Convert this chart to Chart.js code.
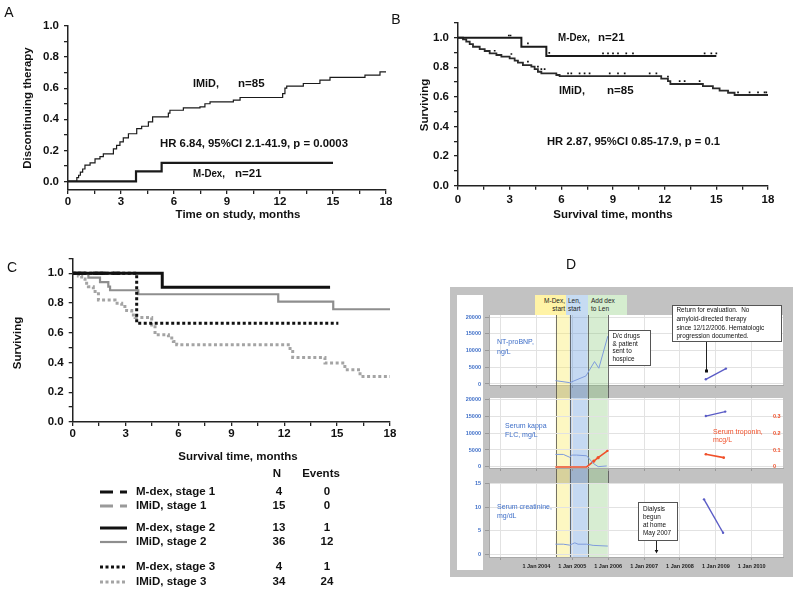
<!DOCTYPE html>
<html><head><meta charset="utf-8">
<script src="https://cdn.jsdelivr.net/npm/chart.js@4"></script>
<style>
html,body{margin:0;padding:0;background:#fff;width:800px;height:593px;overflow:hidden;font-family:"Liberation Sans",Arial,sans-serif}
canvas{position:absolute;left:0;top:0}
.abs{position:absolute}
.lab{position:absolute;font-size:6.5px;line-height:8px;color:#222;box-sizing:border-box;padding-top:2px}
</style></head><body>
<div class="abs" style="left:450px;top:287px;width:343px;height:290px;background:#c2c2c2"></div>
<div class="abs" style="left:457px;top:295px;width:26px;height:275px;background:#fff"></div>
<div class="abs" style="left:489px;top:315px;width:294px;height:70px;background:#fff"></div>
<div class="abs" style="left:489px;top:398px;width:294px;height:70px;background:#fff"></div>
<div class="abs" style="left:489px;top:483px;width:294px;height:74px;background:#fff"></div>
<div class="lab" style="left:535px;top:295px;width:31px;height:20px;background:#fff3a6;text-align:right;padding-right:1px">M-Dex,<br>start</div>
<div class="lab" style="left:566px;top:295px;width:22px;height:20px;background:#c6dbf2;padding-left:2px">Len,<br>start</div>
<div class="lab" style="left:588px;top:295px;width:39px;height:20px;background:#d5edcf;padding-left:3px">Add dex<br>to Len</div>
<script>
// ---------------- DATA ----------------
// Panel A (discontinuing therapy)
const imidATime = [0,0.5,0.6,0.7,0.83,0.96,1.25,1.53,1.81,2.0,2.57,2.75,2.94,3.13,3.42,3.89,4.17,4.55,4.79,5.68,5.77,6.53,7.47,7.75,8.04,9.36,9.74,12.15,12.28,12.38,13.32,14.26,14.83,16.81,17.66,18];
const imidAValue = [0,0.025,0.04,0.06,0.08,0.105,0.12,0.145,0.16,0.178,0.21,0.232,0.254,0.28,0.307,0.34,0.355,0.383,0.415,0.44,0.458,0.473,0.48,0.5,0.512,0.523,0.54,0.565,0.6,0.613,0.63,0.652,0.669,0.684,0.705,0.705];
const mdexATime = [0,3.85,5.3,15];
const mdexAValue = [0,0.065,0.12,0.12];
// Panel B (survival)
const mdexBTime = [0,3.68,5.13,15];
const mdexBSurv = [1,0.939,0.876,0.876];
const imidBTime = [0,0.29,0.48,0.68,0.87,1.26,1.55,1.84,2.23,2.52,3.0,3.29,3.48,3.77,4.26,4.45,4.64,4.84,5.71,5.9,11.8,12.19,12.33,14.22,14.8,15.19,15.68,16.06,18];
const imidBSurv = [1,0.989,0.973,0.957,0.939,0.923,0.91,0.894,0.883,0.872,0.86,0.845,0.831,0.815,0.804,0.788,0.77,0.759,0.748,0.741,0.723,0.707,0.687,0.673,0.658,0.642,0.628,0.613,0.613];
const mdexBCensTime = [2.95,3.05,4.06,5.3,8.42,8.71,9.0,9.29,9.77,10.16,14.32,14.71,15.0];
const mdexBCensSurv = [1.015,1.015,0.962,0.898,0.894,0.894,0.894,0.894,0.894,0.894,0.894,0.894,0.894];
const imidBCensTime = [2.13,3.1,4.06,4.64,4.84,5.03,6.39,6.58,7.06,7.35,7.64,8.81,9.29,9.68,11.13,11.52,12.19,12.87,13.16,14.03,16.26,16.93,17.42,17.8,17.9];
const imidBCensSurv = [0.912,0.89,0.838,0.804,0.788,0.788,0.759,0.759,0.759,0.759,0.759,0.759,0.759,0.759,0.759,0.759,0.737,0.707,0.707,0.707,0.631,0.631,0.631,0.631,0.631];
// Panel C (survival by stage)
const mdexS1Time = [0,2.7];           const mdexS1Surv = [1,1];
const mdexS2Time = [0,5.08,14.6];     const mdexS2Surv = [1,0.906,0.906];
const mdexS3Time = [0,3.63,15.07];    const mdexS3Surv = [1,0.664,0.664];
const imidS1Time = [0,2.5];           const imidS1Surv = [1,1];
const imidS2Time = [0,0.89,1.55,2.02,2.12,3.72,11.66,14.78,18];
const imidS2Surv = [1,0.971,0.94,0.91,0.886,0.859,0.81,0.758,0.758];
const imidS3Time = [0,0.32,0.51,0.7,0.89,1.17,1.46,2.4,2.78,3.06,3.35,3.54,4.48,4.67,5.43,5.71,5.9,12.33,12.48,14.31,15.44,16.3,18];
const imidS3Surv = [1,0.982,0.962,0.933,0.91,0.877,0.821,0.799,0.776,0.749,0.72,0.702,0.653,0.586,0.564,0.541,0.519,0.474,0.434,0.396,0.351,0.306,0.306];
const groupNames = ['M-dex, stage 1','IMiD, stage 1','M-dex, stage 2','IMiD, stage 2','M-dex, stage 3','IMiD, stage 3'];
const groupN = [4,15,13,36,4,34];
const groupEvents = [0,0,1,12,1,24];
// KM tick values
const kmXTicks = [0,1.5,3,4.5,6,7.5,9,10.5,12,13.5,15,16.5,18];
const kmYTicks = [0,0.1,0.2,0.3,0.4,0.5,0.6,0.7,0.8,0.9,1.0,1.1];
// Panel D (patient course, decimal years)
const dYearTicks = [2003,2004,2005,2006,2007,2008,2009,2010];
const bandStart = [2004.54,2004.93,2005.43];
const bandEnd   = [2004.93,2005.43,2005.99];
const bnpEarlyDate = [2004.53,2004.93,2005.38,2005.62,2005.74,2005.99];
const bnpEarlyVal  = [1000,400,2400,6700,4700,14300];
const bnpLateDate  = [2008.72,2009.28];
const bnpLateVal   = [1400,4600];
const bnpTicks = [0,5000,10000,15000,20000];
const flcEarlyDate = [2004.53,2004.75,2004.93,2004.98,2005.12,2005.40,2005.58,2005.72,2005.96];
const flcEarlyVal  = [3700,3700,2850,3500,3500,3300,1100,100,300];
const flcLateDate  = [2008.72,2009.26];
const flcLateVal   = [15000,16300];
const flcTicks = [0,5000,10000,15000,20000];
const tropEarlyDate = [2004.53,2005.40,2005.60,2005.72,2005.98];
const tropEarlyVal  = [0,0,0.035,0.055,0.095];
const tropLateDate  = [2008.72,2009.22];
const tropLateVal   = [0.075,0.055];
const tropTicks = [0,0.1,0.2,0.3];
const creatEarlyDate = [2004.53,2004.75,2004.93,2005.07,2005.16,2005.40,2005.58,2005.99];
const creatEarlyVal  = [2.1,2.1,1.9,2.4,2.1,2.1,1.85,1.7];
const creatLateDate  = [2008.67,2009.2];
const creatLateVal   = [11.7,4.55];
const creatTicks = [0,5,10,15];
const returnDate = 2008.72;
const dialysisDate = 2007.34;

// ---------------- HELPERS ----------------
const FONT = '"Liberation Sans", Arial, sans-serif';
Chart.defaults.font.family = FONT;
function mkCanvas(){ const c=document.createElement('canvas'); c.width=800; c.height=593; c.style.width='800px'; c.style.height='593px'; document.body.appendChild(c); return c; }
function layoutFor(g){ return {autoPadding:false, padding:{left:g.l-g.yw, top:g.t, right:800-g.r-(g.ryw||0), bottom:593-g.b-g.xh}}; }
function textPlugin(items){ return {id:'txt', afterDraw(chart){ const ctx=chart.ctx; items.forEach(it=>{ ctx.save(); ctx.font=(it.w||'bold')+' '+(it.s||11.5)+'px '+FONT; ctx.fillStyle=it.c||'#111'; ctx.textAlign=it.a||'left'; ctx.textBaseline='middle'; ctx.translate(it.x,it.y); if(it.r) ctx.rotate(it.r); if(it.mw) ctx.fillText(it.t,0,0,it.mw); else ctx.fillText(it.t,0,0); ctx.restore(); }); } }; }
function pts(t,v){ return t.map((x,i)=>({x:x,y:v[i]})); }
function km(label,t,s,color,width,dash){ return {label:label,data:pts(t,s),borderColor:color,borderWidth:width,borderDash:dash||[],stepped:true,pointRadius:0,fill:false}; }
function cens(t,s){ return {data:pts(t,s),showLine:false,pointRadius:1.2,pointStyle:'rect',pointBackgroundColor:'#111',pointBorderWidth:0}; }
const kmFont = {size:11.5, weight:'bold'};
function kmChart(datasets,g,yMin,yMax,xPad,texts,extra){
  return new Chart(mkCanvas(),{type:'line',data:{datasets:datasets},options:{
    responsive:false,animation:false,devicePixelRatio:1,events:[],
    layout:layoutFor(g),
    plugins:{legend:{display:false},tooltip:{enabled:false}},
    scales:{
      x:{type:'linear',min:0,max:18,afterFit:s=>{s.height=g.xh;},afterBuildTicks:s=>{s.ticks=kmXTicks.map(v=>({value:v}));},
        ticks:{autoSkip:false,maxRotation:0,padding:xPad,color:'#111',font:kmFont,callback:v=>(v%3===0)?String(v):''},
        grid:{drawOnChartArea:false,tickLength:4,color:'#222',lineWidth:1.3},border:{color:'#222',width:1.5}},
      y:{type:'linear',min:yMin,max:yMax,afterFit:s=>{s.width=g.yw;},afterBuildTicks:s=>{s.ticks=kmYTicks.filter(v=>v<=yMax+1e-9).map(v=>({value:v}));},
        ticks:{autoSkip:false,padding:5,color:'#111',font:kmFont,callback:v=>(Math.round(v*10)%2===0)?v.toFixed(1):''},
        grid:{drawOnChartArea:false,tickLength:4,color:'#222',lineWidth:1.3},border:{color:'#222',width:1.5}}
    }},plugins:[textPlugin(texts)].concat(extra||[])});
}
const RV = -Math.PI/2;

// ---------------- PANEL A ----------------
kmChart([
  km('M-Dex',mdexATime,mdexAValue,'#1a1a1a',2.2),
  km('IMiD',imidATime,imidAValue,'#1a1a1a',1.2)
],{l:68,t:26,r:386,b:190,yw:68,xh:25},-0.055,1.0,1,[
  {t:'A',x:9,y:13,s:14,w:'normal',a:'center'},
  {t:'Discontinuing therapy',x:28,y:108,r:RV,a:'center'},
  {t:'Time on study, months',x:238,y:215,a:'center'},
  {t:'IMiD,',x:193,y:84,mw:26},{t:'n=85',x:238,y:84,mw:27},
  {t:'HR 6.84, 95%CI 2.1-41.9, p = 0.0003',x:160,y:144,mw:188},
  {t:'M-Dex,',x:193,y:174,mw:32},{t:'n=21',x:235,y:174,mw:28}
]);

// ---------------- PANEL B ----------------
kmChart([
  km('M-Dex',mdexBTime,mdexBSurv,'#1a1a1a',2),
  cens(mdexBCensTime,mdexBCensSurv),
  km('IMiD',imidBTime,imidBSurv,'#2a2a2a',1.8),
  cens(imidBCensTime,imidBCensSurv)
],{l:458,t:22.9,r:768,b:185.7,yw:58,xh:25},0,1.1,3,[
  {t:'B',x:396,y:20,s:14,w:'normal',a:'center'},
  {t:'Surviving',x:425,y:105,r:RV,a:'center'},
  {t:'Survival time, months',x:613,y:215,a:'center'},
  {t:'M-Dex,',x:558,y:38,mw:32},{t:'n=21',x:598,y:38,mw:32},
  {t:'IMiD,',x:559,y:91,mw:26},{t:'n=85',x:607,y:91,mw:28},
  {t:'HR 2.87, 95%CI 0.85-17.9, p = 0.1',x:547,y:142,mw:173}
]);

// ---------------- PANEL C ----------------
const legendRowY = [492,506,528,542,567,582];
const cLegend = {id:'kmLegend',afterDraw(chart){
  const ctx=chart.ctx;
  groupNames.forEach((name,k)=>{
    const ds=chart.data.datasets.find(d=>d.label===name); const y=legendRowY[k];
    ctx.save(); ctx.strokeStyle=ds.borderColor; ctx.lineWidth=ds.borderWidth; ctx.setLineDash(ds.legendDash||ds.borderDash);
    ctx.beginPath(); ctx.moveTo(100,y); ctx.lineTo(127,y); ctx.stroke(); ctx.setLineDash([]);
    ctx.font='bold 11.5px '+FONT; ctx.fillStyle='#111'; ctx.textBaseline='middle'; ctx.textAlign='left';
    ctx.fillText(name,136,y,80); ctx.textAlign='center';
    ctx.fillText(String(groupN[k]),279,y); ctx.fillText(String(groupEvents[k]),327,y); ctx.restore();
  });
}};
const cSets = [
  Object.assign(km('M-dex, stage 1',mdexS1Time,mdexS1Surv,'#111',3,[13,7]),{legendDash:[13,7]}),
  km('M-dex, stage 2',mdexS2Time,mdexS2Surv,'#111',3),
  Object.assign(km('M-dex, stage 3',mdexS3Time,mdexS3Surv,'#111',3,[3,2.5]),{legendDash:[3,2.5]}),
  Object.assign(km('IMiD, stage 1',imidS1Time,imidS1Surv,'#9a9a9a',3,[13,7]),{legendDash:[13,7]}),
  km('IMiD, stage 2',imidS2Time,imidS2Surv,'#8e8e8e',2.2),
  Object.assign(km('IMiD, stage 3',imidS3Time,imidS3Surv,'#a4a4a4',3,[3,2.6]),{legendDash:[3,2.5]})
];
cSets[4].legendDash=[]; cSets[1].legendDash=[];
kmChart(cSets,{l:72.7,t:258.4,r:390,b:422,yw:72.7,xh:25},0,1.1,1,[
  {t:'C',x:12,y:268,s:14,w:'normal',a:'center'},
  {t:'Surviving',x:18,y:343,r:RV,a:'center'},
  {t:'Survival time, months',x:238,y:457,a:'center'},
  {t:'N',x:277,y:474,a:'center'},{t:'Events',x:321,y:474,a:'center'}
],[cLegend]);

// ---------------- PANEL D ----------------
const D_BOTTOM = 557;
const bandFill = ['rgba(250,234,95,0.38)','rgba(95,150,220,0.36)','rgba(130,200,115,0.32)'];
const bandPlugin = {id:'bands',beforeDatasetsDraw(chart){
  const ctx=chart.ctx, x=chart.scales.x, top=chart.chartArea.top;
  ctx.save();
  bandStart.forEach((s,i)=>{ const x0=x.getPixelForValue(s), x1=x.getPixelForValue(bandEnd[i]); ctx.fillStyle=bandFill[i]; ctx.fillRect(x0,top,x1-x0,D_BOTTOM-top); });
  ctx.strokeStyle='rgba(70,70,70,0.75)'; ctx.lineWidth=1;
  bandStart.concat([bandEnd[bandEnd.length-1]]).forEach(v=>{ const px=Math.round(x.getPixelForValue(v))+0.5; ctx.beginPath(); ctx.moveTo(px,top); ctx.lineTo(px,D_BOTTOM); ctx.stroke(); });
  ctx.restore();
}};
const annotPlugin = {id:'annot',afterDraw(chart){
  const ctx=chart.ctx, x=chart.scales.x;
  const boxes=[
    {x:672,y:305,w:110,h:37,tx:676.5,ty:310.7,dy:8.6,lines:['Return for evaluation.  No','amyloid-directed therapy','since 12/12/2006. Hematologic','progression documented.']},
    {x:608,y:330,w:43,h:36,tx:612.5,ty:336,dy:7.8,lines:['D/c drugs','& patient','sent to','hospice']},
    {x:638,y:502,w:40,h:39,tx:643,ty:509,dy:8,lines:['Dialysis','begun','at home','May 2007']}
  ];
  ctx.save();
  boxes.forEach(b=>{ ctx.fillStyle='#fff'; ctx.fillRect(b.x,b.y,b.w,b.h); ctx.strokeStyle='#555'; ctx.lineWidth=1; ctx.strokeRect(b.x+0.5,b.y+0.5,b.w-1,b.h-1);
    ctx.fillStyle='#111'; ctx.font='6.4px '+FONT; ctx.textBaseline='middle'; ctx.textAlign='left';
    b.lines.forEach((l,i)=>ctx.fillText(l,b.tx,b.ty+i*b.dy)); });
  const xr=Math.round(x.getPixelForValue(returnDate))+0.5;
  ctx.strokeStyle='#222'; ctx.beginPath(); ctx.moveTo(xr,342); ctx.lineTo(xr,370); ctx.stroke();
  ctx.fillStyle='#111'; ctx.fillRect(xr-1.5,369.5,3,3);
  const xd=Math.round(x.getPixelForValue(dialysisDate))+0.5;
  ctx.beginPath(); ctx.moveTo(xd,541); ctx.lineTo(xd,551); ctx.stroke();
  ctx.beginPath(); ctx.moveTo(xd-1.8,550); ctx.lineTo(xd+1.8,550); ctx.lineTo(xd,553.5); ctx.closePath(); ctx.fill();
  ctx.restore();
}};
const dTick = {size:5.5, weight:'bold'};
function dLine(t,v,color,width,pr,axis){ return {data:pts(t,v),borderColor:color,backgroundColor:color,borderWidth:width,pointRadius:pr,pointBorderWidth:0,pointBackgroundColor:color,tension:0,fill:false,yAxisID:axis||'y'}; }
function dChart(g,datasets,yMin,yMax,yTicks,showX,extraScales,texts,plugins){
  const scales={
    x:{type:'linear',min:2002.68,max:2010.87,afterFit:s=>{s.height=g.xh;},afterBuildTicks:s=>{s.ticks=dYearTicks.map(v=>({value:v}));},
      ticks:{display:showX,autoSkip:false,maxRotation:0,padding:3,color:'#222',font:dTick,callback:v=>v>=2004?('1 Jan '+v):''},
      grid:{color:'#e2e2e2',tickLength:3,tickColor:'#999'},border:{color:'#a8a8a8'}},
    y:{type:'linear',min:yMin,max:yMax,afterFit:s=>{s.width=g.yw;},afterBuildTicks:s=>{s.ticks=yTicks.map(v=>({value:v}));},
      ticks:{autoSkip:false,padding:4,color:'#3f6fc8',font:dTick,callback:v=>String(v)},
      grid:{color:'#e2e2e2',tickLength:4,tickColor:'#999'},border:{color:'#a8a8a8'}}
  };
  Object.assign(scales,extraScales||{});
  return new Chart(mkCanvas(),{type:'line',data:{datasets:datasets},options:{
    responsive:false,animation:false,devicePixelRatio:1,events:[],layout:layoutFor(g),
    plugins:{legend:{display:false},tooltip:{enabled:false}},scales:scales},
    plugins:[textPlugin(texts||[])].concat(plugins||[])});
}
const earlyBlue='#7e9bdc', lateBlue='#5a5cc6', tropRed='#f0502a';
const tropLabelPlugin = {id:'tropLabels',afterDraw(chart){
  const s=chart.scales.y2, ctx=chart.ctx;
  ctx.save(); ctx.font='bold 5.5px '+FONT; ctx.fillStyle=tropRed; ctx.textAlign='left'; ctx.textBaseline='middle';
  tropTicks.forEach(v=>ctx.fillText(String(v),773,s.getPixelForValue(v)));
  ctx.restore();
}};
dChart({l:489,t:315,r:783,b:385,yw:39,xh:0},[
  dLine(bnpEarlyDate,bnpEarlyVal,earlyBlue,1,0),
  dLine(bnpLateDate,bnpLateVal,lateBlue,1.3,1.2)
],-300,20600,bnpTicks,false,null,[
  {t:'NT-proBNP,',x:497,y:342,s:7,w:'normal',c:'#3f6fc8'},{t:'ng/L',x:497,y:352,s:7,w:'normal',c:'#3f6fc8'},
  {t:'D',x:571,y:265,s:14,w:'normal',a:'center'}
],[bandPlugin]);
dChart({l:489,t:398,r:783,b:468,yw:39,xh:0,ryw:0},[
  dLine(flcEarlyDate,flcEarlyVal,earlyBlue,1,0),
  dLine(flcLateDate,flcLateVal,lateBlue,1.3,1.2),
  dLine(tropEarlyDate,tropEarlyVal,tropRed,1.6,[0,0,1.6,1.6,1.2],'y2'),
  dLine(tropLateDate,tropLateVal,tropRed,1.6,1.3,'y2')
],-300,20300,flcTicks,false,{
  y2:{type:'linear',position:'right',min:-0.006,max:0.406,afterFit:s=>{s.width=0;},afterBuildTicks:s=>{s.ticks=tropTicks.map(v=>({value:v}));},
    ticks:{display:false},grid:{drawOnChartArea:false,drawTicks:false},border:{display:false}}
},[
  {t:'Serum kappa',x:505,y:426,s:7,w:'normal',c:'#3f6fc8'},{t:'FLC, mg/L',x:505,y:435,s:7,w:'normal',c:'#3f6fc8'},
  {t:'Serum troponin,',x:713,y:432,s:7,w:'normal',c:tropRed},{t:'mcg/L',x:713,y:440,s:7,w:'normal',c:tropRed}
],[tropLabelPlugin]);
dChart({l:489,t:483,r:783,b:557,yw:39,xh:20},[
  dLine(creatEarlyDate,creatEarlyVal,earlyBlue,1,0),
  dLine(creatLateDate,creatLateVal,lateBlue,1.4,1.2)
],-0.64,15.2,creatTicks,true,null,[
  {t:'Serum creatinine,',x:497,y:507,s:7,w:'normal',c:'#3f6fc8'},{t:'mg/dL',x:497,y:516,s:7,w:'normal',c:'#3f6fc8'}
],[annotPlugin]);
</script>
</body></html>
